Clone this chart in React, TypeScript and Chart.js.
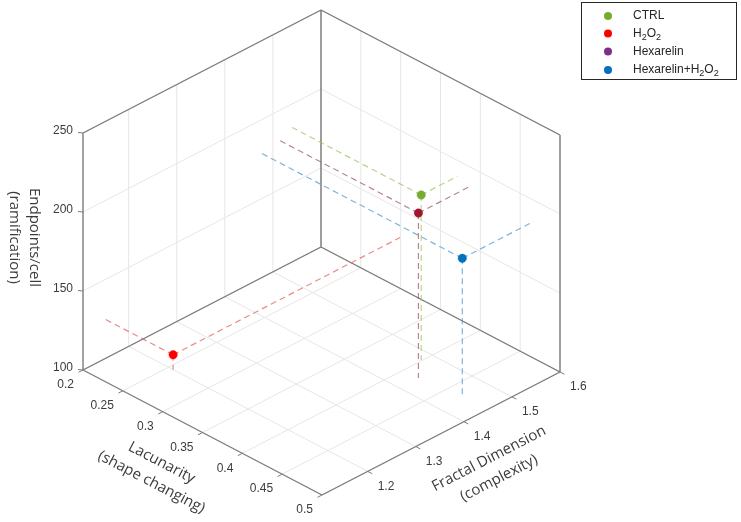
import React, { useEffect, useRef } from "react";
import { Chart, registerables } from "chart.js";

Chart.register(...registerables);

// ---------------- data ----------------
const seriesNames = ["CTRL", "H_2O_2", "Hexarelin", "Hexarelin+H_2O_2"];
const lacunarity = [0.362, 0.289, 0.376, 0.454];
const fractalDimension = [1.54, 1.145, 1.511, 1.473];
const endpointsPerCell = [185.1, 126.8, 181.9, 179.8];
// ends of the dashed guide lines drawn from each point
const lacunarityLineEnd = [0.2, 0.2, 0.2, 0.2];
const fractalLineEnd = [1.615, 1.617, 1.622, 1.621];
const endpointsLineEnd = [80.7, 117.3, 77.5, 91.8];

const lacTicks = [0.2, 0.25, 0.3, 0.35, 0.4, 0.45, 0.5];
const lacTickLabels = ["0.2", "0.25", "0.3", "0.35", "0.4", "0.45", "0.5"];
const fdTicks = [1.2, 1.3, 1.4, 1.5, 1.6];
const fdTickLabels = ["1.2", "1.3", "1.4", "1.5", "1.6"];
const epTicks = [100, 150, 200, 250];
const epTickLabels = ["100", "150", "200", "250"];

const LAC_MIN = 0.2, LAC_MAX = 0.5;
const FD_MIN = 1.105, FD_MAX = 1.6;
const EP_MIN = 100, EP_MAX = 250;

const lacTitle = ["Lacunarity", "(shape changing)"];
const fdTitle = ["Fractal Dimension", "(complexity)"];
const epTitle = ["Endpoints/cell", "(ramification)"];

// ---------------- style ----------------
const markerColors = ["#77AC30", "#FF0000", "#A2142F", "#0072BD"];
const legendColors = ["#77AC30", "#FF0000", "#7E2F8E", "#0072BD"];
const guideColors = [
  "rgba(150,195,90,0.7)",
  "rgba(225,90,90,0.7)",
  "rgba(150,80,110,0.7)",
  "rgba(70,150,205,0.7)",
];
const GRID = "#e6e6e6";
const BOX = "#7c7c7c";
const TEXT = "#3c3c3c";

// view of the 3-D box on the page (layout only)
const VIEW = { ox: 83, oy: 370, lx: 239, ly: 125, fx: 238, fy: -123, zy: -237 };

function project(lac: number, fd: number, ep: number) {
  const a = (lac - LAC_MIN) / (LAC_MAX - LAC_MIN);
  const b = (fd - FD_MIN) / (FD_MAX - FD_MIN);
  const c = (ep - EP_MIN) / (EP_MAX - EP_MIN);
  return { x: VIEW.ox + VIEW.lx * a + VIEW.fx * b, y: VIEW.oy + VIEW.ly * a + VIEW.fy * b + VIEW.zy * c };
}

type P3 = [number, number, number];
function segs(list: [P3, P3][]) {
  const out: any[] = [];
  list.forEach(([p, q]) => {
    out.push(project(p[0], p[1], p[2]));
    out.push(project(q[0], q[1], q[2]));
    out.push({ x: null, y: null });
  });
  return out;
}

function gridSegments(): [P3, P3][] {
  const s: [P3, P3][] = [];
  lacTicks.forEach((l) => {
    s.push([[l, FD_MIN, EP_MIN], [l, FD_MAX, EP_MIN]]);
    s.push([[l, FD_MAX, EP_MIN], [l, FD_MAX, EP_MAX]]);
  });
  fdTicks.forEach((f) => {
    s.push([[LAC_MIN, f, EP_MIN], [LAC_MAX, f, EP_MIN]]);
    s.push([[LAC_MIN, f, EP_MIN], [LAC_MIN, f, EP_MAX]]);
  });
  epTicks.forEach((z) => {
    s.push([[LAC_MIN, FD_MIN, z], [LAC_MIN, FD_MAX, z]]);
    s.push([[LAC_MIN, FD_MAX, z], [LAC_MAX, FD_MAX, z]]);
  });
  return s;
}

function boxSegments(): [P3, P3][] {
  return [
    [[LAC_MIN, FD_MIN, EP_MIN], [LAC_MAX, FD_MIN, EP_MIN]],
    [[LAC_MAX, FD_MIN, EP_MIN], [LAC_MAX, FD_MAX, EP_MIN]],
    [[LAC_MIN, FD_MIN, EP_MIN], [LAC_MIN, FD_MAX, EP_MIN]],
    [[LAC_MIN, FD_MAX, EP_MIN], [LAC_MAX, FD_MAX, EP_MIN]],
    [[LAC_MIN, FD_MIN, EP_MIN], [LAC_MIN, FD_MIN, EP_MAX]],
    [[LAC_MIN, FD_MAX, EP_MIN], [LAC_MIN, FD_MAX, EP_MAX]],
    [[LAC_MAX, FD_MAX, EP_MIN], [LAC_MAX, FD_MAX, EP_MAX]],
    [[LAC_MIN, FD_MIN, EP_MAX], [LAC_MIN, FD_MAX, EP_MAX]],
    [[LAC_MIN, FD_MAX, EP_MAX], [LAC_MAX, FD_MAX, EP_MAX]],
  ];
}

function guideSegments(i: number): [P3, P3][] {
  const p: P3 = [lacunarity[i], fractalDimension[i], endpointsPerCell[i]];
  return [
    [p, [lacunarityLineEnd[i], p[1], p[2]]],
    [p, [p[0], fractalLineEnd[i], p[2]]],
    [p, [p[0], p[1], endpointsLineEnd[i]]],
  ];
}

function richParts(s: string) {
  const parts: { t: string; sub: boolean }[] = [];
  const re = /_(\d)/g;
  let last = 0;
  let m: RegExpExecArray | null;
  while ((m = re.exec(s))) {
    if (m.index > last) parts.push({ t: s.slice(last, m.index), sub: false });
    parts.push({ t: m[1], sub: true });
    last = m.index + 2;
  }
  if (last < s.length) parts.push({ t: s.slice(last), sub: false });
  return parts;
}

function drawRich(ctx: CanvasRenderingContext2D, s: string, x: number, y: number, size: number) {
  let cx = x;
  richParts(s).forEach((p) => {
    ctx.font = `${p.sub ? size * 0.75 : size}px "Liberation Sans", Arial, sans-serif`;
    ctx.fillText(p.t, cx, p.sub ? y + size * 0.3 : y);
    cx += ctx.measureText(p.t).width;
  });
}

const overlay = {
  id: "overlay3d",
  afterDraw(chart: any) {
    const ctx: CanvasRenderingContext2D = chart.ctx;
    const xs = chart.scales.x;
    const ys = chart.scales.y;
    const pix = (lac: number, fd: number, ep: number) => {
      const p = project(lac, fd, ep);
      return { x: xs.getPixelForValue(p.x), y: ys.getPixelForValue(p.y) };
    };
    ctx.save();
    // tick marks
    ctx.strokeStyle = BOX;
    ctx.lineWidth = 1;
    ctx.beginPath();
    lacTicks.forEach((l) => {
      const p = pix(l, FD_MIN, EP_MIN);
      ctx.moveTo(p.x, p.y);
      ctx.lineTo(p.x - 4.5, p.y + 2.3);
    });
    fdTicks.forEach((f) => {
      const p = pix(LAC_MAX, f, EP_MIN);
      ctx.moveTo(p.x, p.y);
      ctx.lineTo(p.x + 4.5, p.y + 2.3);
    });
    epTicks.forEach((z) => {
      const p = pix(LAC_MIN, FD_MIN, z);
      ctx.moveTo(p.x, p.y);
      ctx.lineTo(p.x - 5, p.y - 0.5);
    });
    ctx.stroke();

    // tick labels
    ctx.fillStyle = TEXT;
    ctx.font = '12px "Liberation Sans", Arial, sans-serif';
    ctx.textBaseline = "middle";
    ctx.textAlign = "right";
    lacTicks.forEach((l, i) => {
      const p = pix(l, FD_MIN, EP_MIN);
      ctx.fillText(lacTickLabels[i], p.x - 9, p.y + 15);
    });
    ctx.textAlign = "left";
    fdTicks.forEach((f, i) => {
      const p = pix(LAC_MAX, f, EP_MIN);
      ctx.fillText(fdTickLabels[i], p.x + 10, p.y + 15);
    });
    ctx.textAlign = "right";
    epTicks.forEach((z, i) => {
      const p = pix(LAC_MIN, FD_MIN, z);
      ctx.fillText(epTickLabels[i], p.x - 10, p.y - 2);
    });

    // axis titles
    const title = (lines: string[], cx: number, cy: number, ang: number, lh: number) => {
      ctx.save();
      ctx.translate(cx, cy);
      ctx.rotate(ang);
      ctx.font = '15px "Open Sans", "Noto Sans", sans-serif';
      ctx.textAlign = "center";
      ctx.textBaseline = "middle";
      ctx.fillStyle = TEXT;
      lines.forEach((t, k) => ctx.fillText(t, 0, (k - (lines.length - 1) / 2) * lh));
      ctx.restore();
    };
    const lm = pix((LAC_MIN + LAC_MAX) / 2, FD_MIN, EP_MIN);
    title(lacTitle, lm.x - 46, lm.y + 40, Math.atan2(VIEW.ly, VIEW.lx), 22);
    const fm = pix(LAC_MAX, (FD_MIN + FD_MAX) / 2, EP_MIN);
    title(fdTitle, fm.x + 53, fm.y + 35, Math.atan2(VIEW.fy, VIEW.fx), 22);
    const zm = pix(LAC_MIN, FD_MIN, (EP_MIN + EP_MAX) / 2);
    title(epTitle, zm.x - 59, zm.y - 14, Math.PI / 2, 20);

    // legend
    const lx = 581, ly = 2, lw = 155, lhh = 77;
    ctx.fillStyle = "#ffffff";
    ctx.fillRect(lx, ly, lw, lhh);
    ctx.strokeStyle = "#262626";
    ctx.lineWidth = 1;
    ctx.strokeRect(lx + 0.5, ly + 0.5, lw, lhh);
    const rows = [16, 33.5, 51.5, 70];
    seriesNames.forEach((name, i) => {
      ctx.beginPath();
      ctx.fillStyle = legendColors[i];
      ctx.arc(608, rows[i], 4, 0, Math.PI * 2);
      ctx.fill();
      ctx.fillStyle = "#262626";
      ctx.textAlign = "left";
      ctx.textBaseline = "middle";
      drawRich(ctx, name, 633, rows[i], 12);
    });
    ctx.restore();
  },
};

export default function App() {
  const ref = useRef<HTMLCanvasElement | null>(null);
  useEffect(() => {
    if (!ref.current) return;
    const datasets: any[] = [];
    seriesNames.forEach((name, i) => {
      datasets.push({
        label: name,
        data: [project(lacunarity[i], fractalDimension[i], endpointsPerCell[i])],
        pointRadius: 4.2,
        pointBackgroundColor: markerColors[i],
        pointBorderColor: markerColors[i],
        pointBorderWidth: 0.5,
        showLine: false,
        order: 0,
        clip: false,
      });
    });
    seriesNames.forEach((name, i) => {
      datasets.push({
        label: name + " guides",
        data: segs(guideSegments(i)),
        showLine: true,
        borderColor: guideColors[i],
        borderWidth: 1.2,
        borderDash: [6, 4],
        pointRadius: 0,
        spanGaps: false,
        order: 1,
        clip: false,
      });
    });
    datasets.push({
      label: "box",
      data: segs(boxSegments()),
      showLine: true,
      borderColor: BOX,
      borderWidth: 1.4,
      pointRadius: 0,
      spanGaps: false,
      order: 2,
      clip: false,
    });
    datasets.push({
      label: "grid",
      data: segs(gridSegments()),
      showLine: true,
      borderColor: GRID,
      borderWidth: 1,
      pointRadius: 0,
      spanGaps: false,
      order: 3,
      clip: false,
    });
    const chart = new Chart(ref.current, {
      type: "scatter",
      data: { datasets },
      options: {
        animation: false,
        responsive: true,
        maintainAspectRatio: false,
        events: [],
        layout: { padding: 0, autoPadding: false },
        scales: {
          x: { type: "linear", min: 0, max: 741, display: false },
          y: { type: "linear", min: 0, max: 522, reverse: true, display: false },
        },
        plugins: { legend: { display: false }, tooltip: { enabled: false } },
      },
      plugins: [overlay],
    } as any);
    return () => chart.destroy();
  }, []);
  return (
    <div style={{ position: "fixed", left: 0, top: 0, width: 741, height: 522, background: "#fff" }}>
      <canvas ref={ref} />
    </div>
  );
}
